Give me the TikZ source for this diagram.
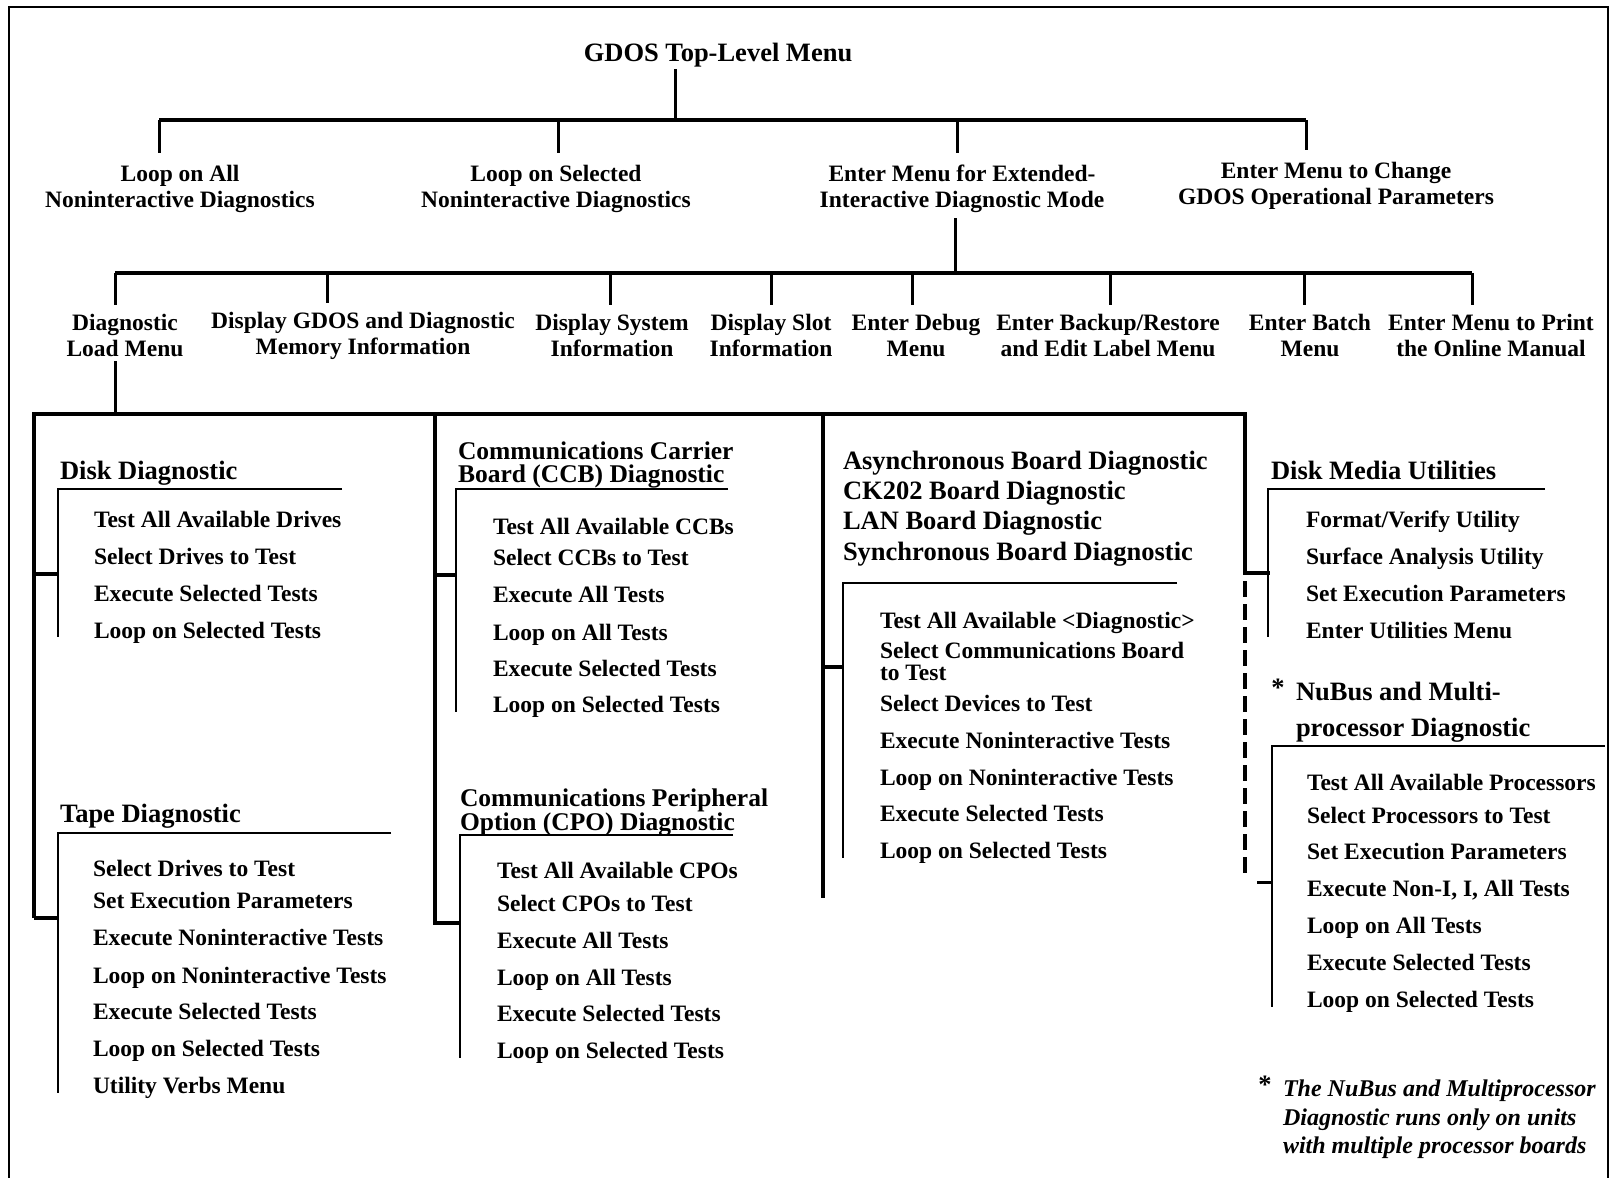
\documentclass[tikz,border=0pt]{standalone}
\usepackage{fontspec}
\setmainfont{Liberation Serif}
\begin{document}
\begin{tikzpicture}[x=1pt,y=-1pt,
  every node/.style={inner sep=0pt,outer sep=0pt},
  body/.style={font=\fontsize{23.5}{26}\selectfont\bfseries},
  lvl/.style={body,align=center,anchor=center},
  itm/.style={body,anchor=base west},
  hdr/.style={font=\fontsize{26.5}{21}\selectfont\bfseries,align=left,anchor=base west},
  hdrml/.style={font=\fontsize{26.5}{21}\selectfont\bfseries,align=left,anchor=north west},
  hdrtwo/.style={font=\fontsize{25.5}{22.5}\selectfont\bfseries,align=left,anchor=north west},
  busline/.style={line width=4.5pt},
  stem/.style={line width=3pt},
  colline/.style={line width=4pt,line join=miter},
  brack/.style={line width=2.2pt,line join=miter},
  frameline/.style={line width=1.8pt},
  dashcol/.style={line width=4pt,dash pattern=on 16pt off 7pt}
]
\useasboundingbox (0,0) rectangle (1610,1178);
\draw[frameline] (9,1178) -- (9,7) -- (1608,7) -- (1608,1178);

% ---- top level
\node[font=\fontsize{26.5}{28}\selectfont\bfseries] (title) at (718,55) {GDOS Top-Level Menu};

\node[lvl] (l2a) at (180,189) {Loop on All\\Noninteractive Diagnostics};
\node[lvl] (l2b) at (556,189) {Loop on Selected\\Noninteractive Diagnostics};
\node[lvl] (l2c) at (962,189) {Enter Menu for Extended-\\Interactive Diagnostic Mode};
\node[lvl] (l2d) at (1336,186) {Enter Menu to Change\\GDOS Operational Parameters};

\coordinate (j1) at (675,120);
\coordinate (b1a) at (159,120);
\coordinate (b1b) at (558,120);
\coordinate (b1c) at (957,120);
\coordinate (b1d) at (1306,120);
\draw[stem,shorten <=2pt] (title.south -| j1) -- (j1);
\draw[busline] (b1a) -- (b1d);
\foreach \c/\n in {b1a/l2a,b1b/l2b,b1c/l2c,b1d/l2d}
  \draw[stem,shorten >=12.5pt] (\c) -- (\c |- \n.north);

% ---- second level
\node[lvl] (l3a) at (125,335.5) {Diagnostic\\Load Menu};
\node[lvl] (l3b) at (363,335.5) {Display GDOS and Diagnostic\\Memory Information};
\node[lvl] (l3c) at (612,335.5) {Display System\\Information};
\node[lvl] (l3d) at (771,335.5) {Display Slot\\Information};
\node[lvl] (l3e) at (916,335.5) {Enter Debug\\Menu};
\node[lvl] (l3f) at (1108,335.5) {Enter Backup/Restore\\and Edit Label Menu};
\node[lvl] (l3g) at (1310,335.5) {Enter Batch\\Menu};
\node[lvl] (l3h) at (1491,335.5) {Enter Menu to Print\\the Online Manual};

\coordinate (j2) at (955,273);
\draw[stem,shorten <=5.5pt] (l2c.south -| j2) -- (j2);
\coordinate (b2a) at (115,273);
\coordinate (b2b) at (327,273);
\coordinate (b2c) at (610,273);
\coordinate (b2d) at (771,273);
\coordinate (b2e) at (912,273);
\coordinate (b2f) at (1110,273);
\coordinate (b2g) at (1304,273);
\coordinate (b2h) at (1472,273);
\draw[busline] (b2a) -- (b2h);
\foreach \c/\n in {b2a/l3a,b2b/l3b,b2c/l3c,b2d/l3d,b2e/l3e,b2f/l3f,b2g/l3g,b2h/l3h}
  \draw[stem,shorten >=9pt] (\c) -- (\c |- \n.north);

% ---- diagnostic load menu bus
\coordinate (j3) at (115,414);
\draw[stem,shorten <=4.5pt] (l3a.south -| j3) -- (j3);
\coordinate (k1) at (34,414);
\coordinate (k2) at (435,414);
\coordinate (k3) at (823,414);
\coordinate (k4) at (1245,414);
\draw[colline] (34,918) -- (k1) -- (k4) -- (1245,573) -- (1270,573);
\draw[colline] (k2) -- (435,923) -- (460,923);
\draw[colline] (k3) -- (823,898);
\draw[colline] (34,574) -- (58,574);
\draw[colline] (34,918) -- (58,918);
\draw[colline] (435,575) -- (456,575);
\draw[colline] (823,667) -- (843,667);
\draw[dashcol] (1245,581) -- (1245,878);
\draw[stem] (1257,882) -- (1272,882);

% ---- Disk Diagnostic
\node[hdr] (hdisk) at (60,479) {Disk Diagnostic};
\draw[brack] (342,489) -- (58,489) -- (58,637);
\node[itm] (d1) at (94,527) {Test All Available Drives};
\node[itm] (d2) at (94,564) {Select Drives to Test};
\node[itm] (d3) at (94,601) {Execute Selected Tests};
\node[itm] (d4) at (94,638) {Loop on Selected Tests};

% ---- Tape Diagnostic
\node[hdr] (htape) at (60,822) {Tape Diagnostic};
\draw[brack] (391,833) -- (58,833) -- (58,1093);
\node[itm] (t1) at (93,876) {Select Drives to Test};
\node[itm] (t2) at (93,908) {Set Execution Parameters};
\node[itm] (t3) at (93,945) {Execute Noninteractive Tests};
\node[itm] (t4) at (93,983) {Loop on Noninteractive Tests};
\node[itm] (t5) at (93,1019) {Execute Selected Tests};
\node[itm] (t6) at (93,1056) {Loop on Selected Tests};
\node[itm] (t7) at (93,1093) {Utility Verbs Menu};

% ---- CCB
\node[hdrtwo] (hccb) at (458,442) {Communications Carrier\\Board (CCB) Diagnostic};
\draw[brack] (728,489) -- (456,489) -- (456,712);
\node[itm] (c1) at (493,534) {Test All Available CCBs};
\node[itm] (c2) at (493,565) {Select CCBs to Test};
\node[itm] (c3) at (493,602) {Execute All Tests};
\node[itm] (c4) at (493,640) {Loop on All Tests};
\node[itm] (c5) at (493,676) {Execute Selected Tests};
\node[itm] (c6) at (493,712) {Loop on Selected Tests};

% ---- CPO
\node[hdrtwo] (hcpo) at (460,789) {Communications Peripheral\\Option (CPO) Diagnostic};
\draw[brack] (733,835) -- (460,835) -- (460,1058);
\node[itm] (p1) at (497,878) {Test All Available CPOs};
\node[itm] (p2) at (497,911) {Select CPOs to Test};
\node[itm] (p3) at (497,948) {Execute All Tests};
\node[itm] (p4) at (497,985) {Loop on All Tests};
\node[itm] (p5) at (497,1021) {Execute Selected Tests};
\node[itm] (p6) at (497,1058) {Loop on Selected Tests};

% ---- Communications boards
\node[hdrml,font=\fontsize{26.5}{30.3}\selectfont\bfseries] (hcom) at (843,451)
  {Asynchronous Board Diagnostic\\CK202 Board Diagnostic\\LAN Board Diagnostic\\Synchronous Board Diagnostic};
\draw[brack] (1177,583) -- (843,583) -- (843,858);
\node[itm] (m1) at (880,628) {Test All Available <Diagnostic>};
\node[body,align=left,anchor=north west,font=\fontsize{23.5}{22}\selectfont\bfseries] (m2) at (880,642) {Select Communications Board\\to Test};
\node[itm] (m3) at (880,711) {Select Devices to Test};
\node[itm] (m4) at (880,748) {Execute Noninteractive Tests};
\node[itm] (m5) at (880,785) {Loop on Noninteractive Tests};
\node[itm] (m6) at (880,821) {Execute Selected Tests};
\node[itm] (m7) at (880,858) {Loop on Selected Tests};

% ---- Disk Media Utilities
\node[hdr] (hmedia) at (1271,479) {Disk Media Utilities};
\draw[brack] (1545,489) -- (1268,489) -- (1268,637);
\node[itm] (u1) at (1306,527) {Format/Verify Utility};
\node[itm] (u2) at (1306,564) {Surface Analysis Utility};
\node[itm] (u3) at (1306,601) {Set Execution Parameters};
\node[itm] (u4) at (1306,638) {Enter Utilities Menu};

% ---- NuBus
\node[font=\fontsize{26.5}{30}\selectfont\bfseries] (ast1) at (1278,688) {*};
\node[hdrml,font=\fontsize{26.5}{36}\selectfont\bfseries] (hnubus) at (1296,682) {NuBus and Multi-\\processor Diagnostic};
\draw[brack] (1605,746) -- (1272,746) -- (1272,1007);
\node[itm] (n1) at (1307,790) {Test All Available Processors};
\node[itm] (n2) at (1307,823) {Select Processors to Test};
\node[itm] (n3) at (1307,859) {Set Execution Parameters};
\node[itm] (n4) at (1307,896) {Execute Non-I, I, All Tests};
\node[itm] (n5) at (1307,933) {Loop on All Tests};
\node[itm] (n6) at (1307,970) {Execute Selected Tests};
\node[itm] (n7) at (1307,1007) {Loop on Selected Tests};

% ---- footnote
\node[font=\fontsize{26.5}{30}\selectfont\bfseries] (ast2) at (1265,1085) {*};
\node[font=\fontsize{24}{28.5}\selectfont\bfseries\itshape,align=left,anchor=north west] (foot) at (1283,1080)
  {The NuBus and Multiprocessor\\Diagnostic runs only on units\\with multiple processor boards};
\end{tikzpicture}
\end{document}
